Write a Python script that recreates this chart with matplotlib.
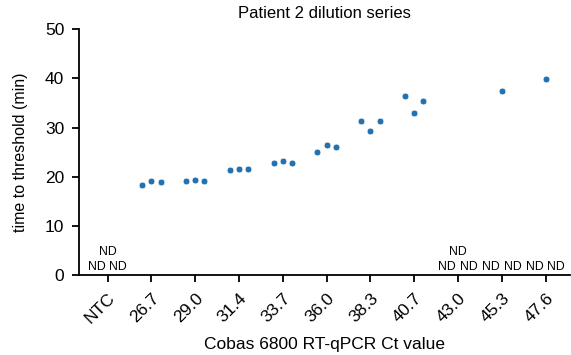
import numpy as np
import matplotlib.pyplot as plt

plt.rcParams['font.family'] = ['Liberation Sans', 'DejaVu Sans']

# Ct values of the dilution series (NTC = no template control)
categories = ['NTC', '26.7', '29.0', '31.4', '33.7', '36.0',
              '38.3', '40.7', '43.0', '45.3', '47.6']
nan = np.nan
# three replicates per dilution, NaN = not detected
rep1 = [nan, 18.3, 19.2, 21.3, 22.7, 25.1, 31.4, 36.4, nan, nan, nan]
rep2 = [nan, 19.1, 19.4, 21.5, 23.2, 26.4, 29.2, 33.0, nan, 37.5, 39.8]
rep3 = [nan, 19.0, 19.2, 21.5, 22.7, 26.1, 31.3, 35.4, nan, nan, nan]

replicates = [rep1, rep2, rep3]
offsets = [-0.21, 0.0, 0.21]
nd_offsets = [-0.25, 0.0, 0.24]
nd_heights = [1.6, 4.6, 1.6]

fig = plt.figure(figsize=(5.71, 3.55), dpi=100)
fig.set_facecolor('white')
ax = fig.add_axes([0.138, 0.225, 0.86, 0.693])

x = np.arange(len(categories))
for rep, off, nd_off, nd_y in zip(replicates, offsets, nd_offsets, nd_heights):
    vals = np.array(rep, dtype=float)
    ax.scatter(x + off, vals, s=24, color='#2471b0', edgecolor='white',
               linewidth=0.5, zorder=3)
    for xi, v in zip(x, vals):
        if np.isnan(v):
            ax.text(xi + nd_off, nd_y, 'ND', ha='center', va='center',
                    fontsize=8.8)

ax.set_xlim(-0.655, 10.55)
ax.set_ylim(0, 50)
ax.set_yticks([0, 10, 20, 30, 40, 50])
ax.set_xticks(x)
ax.set_xticklabels(categories, rotation=45, ha='right',
                   rotation_mode='anchor')

for side in ['top', 'right']:
    ax.spines[side].set_visible(False)
for side in ['left', 'bottom']:
    ax.spines[side].set_linewidth(1.3)
ax.tick_params(axis='both', labelsize=12.5, width=1.3, length=5)
ax.tick_params(axis='y', pad=5.5)
ax.tick_params(axis='x', pad=6)

ax.set_ylabel('time to threshold (min)', fontsize=11.5, labelpad=12)
ax.set_xlabel('Cobas 6800 RT-qPCR Ct value', fontsize=12.5, labelpad=8)
ax.set_title('Patient 2 dilution series', fontsize=12, pad=8)

fig.savefig('out.png', dpi=100)
